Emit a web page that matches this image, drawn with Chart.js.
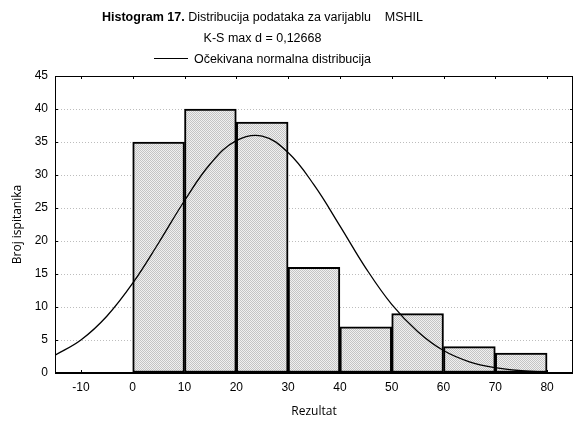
<!DOCTYPE html>
<html>
<head>
<meta charset="utf-8">
<script src="https://cdn.jsdelivr.net/npm/chart.js@4.4.0/dist/chart.umd.min.js"></script>
<style>
  body { margin: 0; background: #fff; }
  #wrap { position: relative; width: 575px; height: 423px; }
  .hdr { position: absolute; left: 0; width: 525px; text-align: center;
         font-family: "Liberation Sans", Arial, sans-serif; font-size: 12.5px; color: #000; white-space: pre; }
  .leg-line { display: inline-block; width: 34px; border-top: 1px solid #000; vertical-align: middle; margin-right: 6px; position: relative; top: -1px; }
</style>
</head>
<body>
<div id="wrap">
  <canvas id="c" width="575" height="423"></canvas>
  <div class="hdr" style="top:10px"><b>Histogram 17.</b> Distribucija podataka za varijablu    MSHIL</div>
  <div class="hdr" style="top:31px">K-S max d = 0,12668</div>
  <div class="hdr" style="top:52px"><span class="leg-line"></span>Očekivana normalna distribucija</div>
</div>
<script>
// histogram bins (centre of each 10-point class) and counts
const binCenters = [5, 15, 25, 35, 45, 55, 65, 75];
const binCounts = [35, 40, 38, 16, 7, 9, 4, 3];

// expected normal curve
const curveX = [-15, -10, -5, 0, 5, 10, 15, 20, 25, 30, 35, 40, 45, 50, 55, 60, 65, 70, 75, 80];
const curveY = [2.7, 5.0, 8.6, 13.6, 19.7, 26.1, 31.7, 35.2, 35.9, 33.4, 28.5, 22.3, 15.9, 10.4, 6.3, 3.4, 1.7, 0.8, 0.35, 0.15];

const xTicks = [-10, 0, 10, 20, 30, 40, 50, 60, 70, 80];
const yTicks = [0, 5, 10, 15, 20, 25, 30, 35, 40, 45];

const makeHatch = () => {
    const p = document.createElement('canvas');
    p.width = 2; p.height = 2;
    const g = p.getContext('2d');
    g.fillStyle = '#f0f0f0';
    g.fillRect(0, 0, 2, 2);
    g.fillStyle = '#c4c4c4';
    g.fillRect(0, 0, 1, 1);
    g.fillRect(1, 1, 1, 1);
    return g.createPattern(p, 'repeat');
};

const frame = {
    id: 'frame',
    afterDraw(chart) {
        const { ctx, chartArea: a } = chart;
        ctx.save();
        ctx.strokeStyle = '#000';
        ctx.lineWidth = 1;
        ctx.strokeRect(a.left + 0.5, a.top + 0.5, a.right - a.left - 1, a.bottom - a.top - 1);
        ctx.lineWidth = 2;
        ctx.beginPath();
        ctx.moveTo(a.left, a.bottom);
        ctx.lineTo(a.right, a.bottom);
        ctx.stroke();
        // small inner tick marks on all edges
        ctx.lineWidth = 1;
        const xs = chart.scales.x, ys = chart.scales.y;
        xTicks.forEach(v => {
            const px = Math.round(xs.getPixelForValue(v)) + 0.5;
            ctx.beginPath(); ctx.moveTo(px, a.top); ctx.lineTo(px, a.top + 3); ctx.stroke();
            ctx.beginPath(); ctx.moveTo(px, a.bottom); ctx.lineTo(px, a.bottom - 3); ctx.stroke();
        });
        yTicks.forEach(v => {
            const py = Math.round(ys.getPixelForValue(v)) + 0.5;
            ctx.beginPath(); ctx.moveTo(a.right - 3, py); ctx.lineTo(a.right, py); ctx.stroke();
            ctx.beginPath(); ctx.moveTo(a.left, py); ctx.lineTo(a.left + 3, py); ctx.stroke();
        });
        ctx.restore();
    }
};

new Chart(document.getElementById('c'), {
    data: {
        datasets: [
            {
                type: 'line',
                label: 'Očekivana normalna distribucija',
                data: curveX.map((x, i) => ({ x: x, y: curveY[i] })),
                borderColor: '#000',
                borderWidth: 1.3,
                pointRadius: 0,
                tension: 0.4,
                fill: false,
                order: 0
            },
            {
                type: 'bar',
                label: 'Broj',
                data: binCenters.map((x, i) => ({ x: x, y: binCounts[i] })),
                backgroundColor: makeHatch(),
                borderColor: '#000',
                borderWidth: 2,
                borderSkipped: false,
                barPercentage: 1,
                categoryPercentage: 1,
                order: 1
            }
        ]
    },
    options: {
        responsive: false,
        animation: false,
        layout: { padding: { left: 6, right: 2, top: 76, bottom: 0 } },
        plugins: {
            legend: { display: false },
            tooltip: { enabled: false }
        },
        scales: {
            x: {
                type: 'linear',
                min: -15,
                max: 85,
                offset: false,
                afterBuildTicks: (scale) => {
                    scale.ticks = xTicks.map(v => ({ value: v }));
                },
                afterFit: (scale) => { scale.height = 50; },
                ticks: {
                    color: '#000',
                    padding: 7,
                    maxRotation: 0,
                    autoSkip: false,
                    font: { family: 'Liberation Sans', size: 12 }
                },
                grid: { display: false, drawTicks: false },
                border: { display: false },
                title: {
                    display: true,
                    text: 'Rezultat',
                    color: '#000',
                    padding: { top: 8, bottom: 4 },
                    font: { family: 'Open Sans', size: 12 }
                }
            },
            y: {
                min: 0,
                max: 45,
                afterBuildTicks: (scale) => {
                    scale.ticks = yTicks.map(v => ({ value: v }));
                },
                afterFit: (scale) => { scale.width = 49; },
                ticks: {
                    color: '#000',
                    padding: 7,
                    font: { family: 'Liberation Sans', size: 12 }
                },
                grid: {
                    color: '#bdbdbd',
                    lineWidth: 1,
                    drawTicks: false
                },
                border: { display: false, dash: [1, 2] },
                title: {
                    display: true,
                    text: 'Broj ispitanika',
                    color: '#000',
                    padding: { top: 4, bottom: 4 },
                    font: { family: 'Open Sans', size: 12 }
                }
            }
        }
    },
    plugins: [frame]
});
</script>
</body>
</html>
